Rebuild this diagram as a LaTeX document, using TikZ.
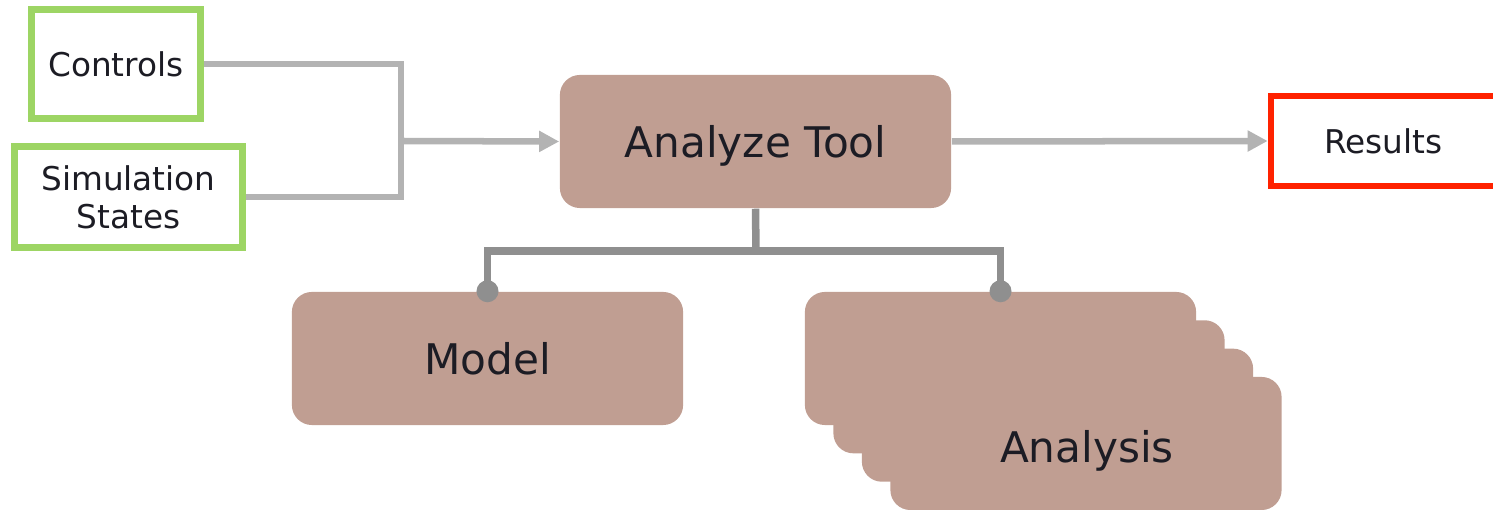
\documentclass[tikz,border=0pt]{standalone}
\usepackage{fontspec}
\setmainfont{DejaVu Sans}
\usetikzlibrary{arrows.meta}
\definecolor{boxfill}{HTML}{C09E92}
\definecolor{greenedge}{HTML}{9DD564}
\definecolor{rededge}{HTML}{FF2200}
\definecolor{lightline}{HTML}{B3B3B3}
\definecolor{darkline}{HTML}{8F8F8F}
\definecolor{txt}{HTML}{1C1C24}
\tikzset{
  px/.style={x=0.01cm,y=-0.01cm},
  inbox/.style={draw=greenedge,line width=0.07cm,fill=white,inner sep=0pt,
    font=\fontsize{9.3}{10.8}\selectfont,text=txt,align=center},
  outbox/.style={draw=rededge,line width=0.065cm,fill=white,inner sep=0pt,
    font=\fontsize{9.3}{10.8}\selectfont,text=txt,align=center},
  toolbox/.style={fill=boxfill,rounded corners=0.2cm,inner sep=0pt,
    minimum width=3.91cm,minimum height=1.33cm,text depth=0pt,
    font=\fontsize{12}{14}\selectfont,text=txt},
  bigtext/.style={font=\fontsize{12}{14}\selectfont,text=txt,inner sep=0pt,text depth=0pt},
  feed/.style={draw=lightline,line width=0.065cm},
  feedarrow/.style={feed,-{Triangle[length=0.2cm,width=0.2cm]}},
  tree/.style={draw=darkline,line width=0.075cm},
  treedot/.style={fill=darkline}
}
\begin{document}
\begin{tikzpicture}[px]
\useasboundingbox (0,0) rectangle (1493,510);
% input boxes
\node[inbox,minimum width=1.68cm,minimum height=1.08cm,text depth=0pt] (controls) at (116,64) {Controls};
\node[inbox,minimum width=2.27cm,minimum height=1.01cm] (sim) at (128.5,197) {Simulation\\States};
% output box
\node[outbox,minimum width=2.25cm,minimum height=0.90cm,text width=2.25cm] (results) at (1383.5,141) {Results};
% main tool
\node[toolbox] (tool) at (755.5,141.5) {Analyze Tool};
% model
\node[toolbox] (model) at (487.5,358.5) {Model};
% analysis stack
\node[toolbox] (an4) at (1086,443.5) {};
\node[toolbox] (an3) at (1057.5,415.2) {};
\node[toolbox] (an2) at (1029,386.8) {};
\node[toolbox] (an1) at (1000.5,358.5) {};
\node[bigtext] (antext) at (1087,446) {Analysis};
% feed connectors
\coordinate (join) at (401,141);
\draw[feed] (controls.east) -| (join) |- (sim.east);
\draw[feedarrow] (join) -- (tool.west);
\draw[feedarrow] (tool.east) -- (results.west);
% tree connectors
\coordinate (bus) at (756,251);
\draw[tree] (tool.south) -- (bus);
\draw[tree] (model.north) |- (bus) -| (an1.north);
\fill[treedot] (model.north) circle (0.11cm);
\fill[treedot] (an1.north) circle (0.11cm);
\end{tikzpicture}
\end{document}
